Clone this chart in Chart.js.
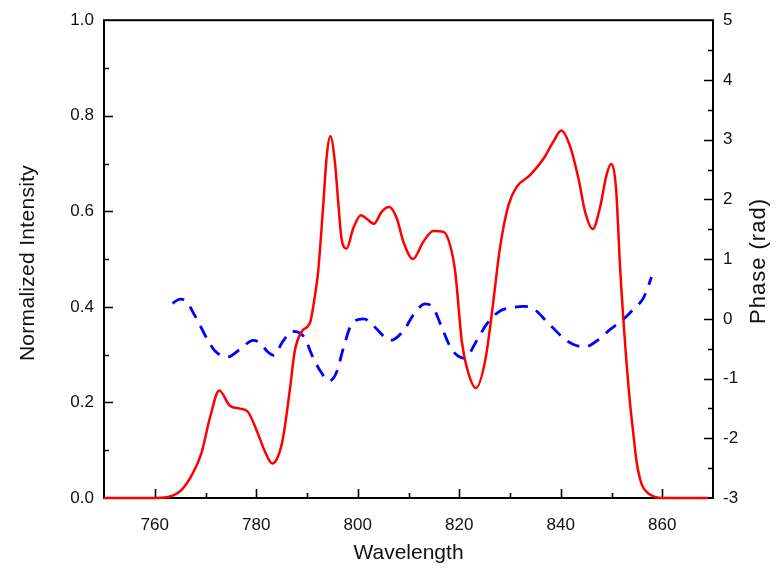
<!DOCTYPE html>
<html>
<head>
<meta charset="utf-8">
<title>Normalized Intensity and Phase</title>
<script src="https://cdn.jsdelivr.net/npm/chart.js@4/dist/chart.umd.min.js"></script>
<style>
  html, body { margin: 0; padding: 0; background: #ffffff; }
  #wrap { width: 782px; height: 569px; }
</style>
</head>
<body>
<div id="wrap"><canvas id="c" width="782" height="569"></canvas></div>
<script>
// Spectral intensity (left axis)
const intensityWavelength = [750, 755, 760, 762, 763.5, 765.3, 767.5, 769.2, 770.9, 772.7, 774.8, 776.8, 778.3, 780.1, 781.8, 783.2, 784.4, 785.3, 786.6, 787.6, 789.0, 790.6, 791.6, 792.2, 793.2, 793.9, 794.6, 795.5, 796.2, 796.8, 797.8, 799.1, 800.6, 801.7, 803.2, 804.7, 806.2, 807.7, 809.0, 810.9, 812.9, 814.9, 816.9, 818.2, 819.2, 820.5, 821.5, 823.3, 825.1, 826.4, 828.0, 829.7, 831.3, 833.9, 836.6, 838.5, 840.1, 841.8, 843.5, 844.8, 846.3, 847.7, 849.0, 849.9, 850.9, 851.7, 852.7, 853.6, 854.3, 854.9, 855.9, 857.2, 858.6, 860, 869];
const intensityValues = [0, 0, 0, 0.001, 0.005, 0.017, 0.052, 0.094, 0.169, 0.225, 0.193, 0.187, 0.181, 0.141, 0.095, 0.072, 0.09, 0.127, 0.225, 0.308, 0.349, 0.367, 0.426, 0.474, 0.613, 0.717, 0.757, 0.703, 0.613, 0.543, 0.522, 0.564, 0.592, 0.585, 0.574, 0.599, 0.609, 0.585, 0.536, 0.5, 0.536, 0.559, 0.557, 0.529, 0.474, 0.328, 0.273, 0.23, 0.287, 0.384, 0.522, 0.613, 0.651, 0.675, 0.71, 0.745, 0.769, 0.737, 0.668, 0.599, 0.563, 0.606, 0.675, 0.699, 0.647, 0.481, 0.32, 0.204, 0.135, 0.079, 0.03, 0.01, 0.002, 0, 0];

// Spectral phase (right axis)
const phaseWavelength = [763.5, 765.0, 766.3, 767.6, 769.0, 770.2, 771.9, 774.3, 776.8, 779.4, 781.0, 782.1, 783.4, 785.3, 787.0, 789.3, 791.2, 792.6, 794.4, 795.8, 797.2, 798.8, 801.2, 803.1, 806.5, 809.0, 811.0, 813.3, 814.9, 816.5, 818.5, 821.1, 823.4, 825.4, 828.0, 830.5, 832.6, 834.6, 837.2, 840.5, 842.5, 844.8, 847.1, 849.7, 852.3, 854.3, 856.3, 857.9];
const phaseValues = [0.26, 0.33, 0.29, 0.10, -0.12, -0.32, -0.54, -0.64, -0.51, -0.36, -0.42, -0.54, -0.61, -0.37, -0.21, -0.29, -0.65, -0.87, -1.04, -0.90, -0.48, -0.09, 0.00, -0.12, -0.36, -0.20, 0.07, 0.25, 0.18, -0.13, -0.51, -0.66, -0.37, -0.09, 0.13, 0.19, 0.21, 0.17, -0.04, -0.32, -0.43, -0.47, -0.37, -0.18, -0.01, 0.16, 0.35, 0.70];

// Axis ticks
const wavelengthTicks = [760, 780, 800, 820, 840, 860];
const intensityTicks = [0, 0.2, 0.4, 0.6, 0.8, 1.0];
const phaseTicks = [-3, -2, -1, 0, 1, 2, 3, 4, 5];

const FONT = 'Arial, "Liberation Sans", Helvetica, sans-serif';

const toPoints = (xs, ys) => xs.map((x, i) => ({ x, y: ys[i] }));

// Closed frame and inward major/minor tick marks, drawn under the curves
const framePlugin = {
  id: 'frameTicks',
  beforeDatasetsDraw(chart) {
    const { ctx, chartArea, scales } = chart;
    const { left, right, top, bottom } = chartArea;
    ctx.save();
    ctx.strokeStyle = '#000';
    ctx.lineCap = 'butt';

    ctx.lineWidth = 1.6;
    ctx.beginPath();
    // bottom axis: majors every 20, minors in between
    for (let v = 760; v <= 860; v += 10) {
      const px = Math.round(scales.x.getPixelForValue(v)) + 0.5;
      const len = (v - 760) % 20 === 0 ? 9 : 5;
      ctx.moveTo(px, bottom); ctx.lineTo(px, bottom - len);
    }
    // left axis
    for (let k = 1; k < 10; k++) {
      const v = k / 10;
      const py = Math.round(scales.y.getPixelForValue(v)) + 0.5;
      const len = k % 2 === 0 ? 9 : 5;
      ctx.moveTo(left, py); ctx.lineTo(left + len, py);
    }
    // right axis
    for (let k = -5; k < 10; k++) {
      const v = k / 2;
      const py = Math.round(scales.y1.getPixelForValue(v)) + 0.5;
      const len = k % 2 === 0 ? 9 : 5;
      ctx.moveTo(right, py); ctx.lineTo(right - len, py);
    }
    ctx.stroke();

    ctx.lineWidth = 2;
    ctx.strokeRect(left, top, right - left, bottom - top);
    ctx.restore();
  },
  // rotated axis titles, both reading bottom to top
  afterDraw(chart) {
    const { ctx } = chart;
    const titles = [
      { x: 28, y: 263, size: 21, spacing: '0.3px', text: 'Normalized Intensity' },
      { x: 759, y: 261, size: 22, spacing: '1px', text: 'Phase (rad)' }
    ];
    ctx.save();
    ctx.fillStyle = '#111';
    ctx.textAlign = 'center';
    ctx.textBaseline = 'middle';
    titles.forEach(t => {
      ctx.save();
      ctx.font = t.size + 'px ' + FONT;
      if ('letterSpacing' in ctx) ctx.letterSpacing = t.spacing;
      ctx.translate(t.x, t.y);
      ctx.rotate(-Math.PI / 2);
      ctx.fillText(t.text, 0, 0);
      ctx.restore();
    });
    ctx.restore();
  }
};

const hiddenGrid = { display: false, drawTicks: false, tickLength: 0 };

new Chart(document.getElementById('c'), {
  type: 'line',
  data: {
    datasets: [
      {
        label: 'Normalized Intensity',
        data: toPoints(intensityWavelength, intensityValues),
        yAxisID: 'y',
        borderColor: '#ff0000',
        borderWidth: 2.5,
        pointRadius: 0,
        cubicInterpolationMode: 'monotone',
        fill: false,
        clip: 6
      },
      {
        label: 'Phase (rad)',
        data: toPoints(phaseWavelength, phaseValues),
        yAxisID: 'y1',
        borderColor: '#0000ff',
        borderWidth: 2.8,
        borderDash: [13, 9],
        borderCapStyle: 'butt',
        pointRadius: 0,
        cubicInterpolationMode: 'monotone',
        fill: false,
        clip: 6
      }
    ]
  },
  options: {
    responsive: false,
    animation: false,
    devicePixelRatio: 1,
    layout: { padding: { top: 17, left: 0, right: 0, bottom: 0 } },
    plugins: { legend: { display: false }, tooltip: { enabled: false } },
    scales: {
      x: {
        type: 'linear',
        position: 'bottom',
        min: 750,
        max: 870,
        afterBuildTicks: s => { s.ticks = wavelengthTicks.map(v => ({ value: v })); },
        afterFit: s => { s.height = 71; },
        grid: hiddenGrid,
        border: { display: false },
        ticks: {
          color: '#111',
          font: { family: FONT, size: 17 },
          padding: 17,
          maxRotation: 0,
          autoSkip: false,
          callback: v => String(v)
        },
        title: {
          display: true,
          text: 'Wavelength',
          color: '#111',
          font: { family: FONT, size: 21 },
          padding: { top: 0, bottom: 3 }
        }
      },
      y: {
        type: 'linear',
        position: 'left',
        min: 0,
        max: 1,
        afterBuildTicks: s => { s.ticks = intensityTicks.map(v => ({ value: v })); },
        afterFit: s => { s.width = 104; },
        grid: hiddenGrid,
        border: { display: false },
        ticks: {
          color: '#111',
          font: { family: FONT, size: 17 },
          padding: 10,
          autoSkip: false,
          callback: v => Number(v).toFixed(1)
        }
      },
      y1: {
        type: 'linear',
        position: 'right',
        min: -3,
        max: 5,
        afterBuildTicks: s => { s.ticks = phaseTicks.map(v => ({ value: v })); },
        afterFit: s => { s.width = 69; },
        grid: hiddenGrid,
        border: { display: false },
        ticks: {
          color: '#111',
          font: { family: FONT, size: 17 },
          padding: 10,
          autoSkip: false,
          callback: v => String(v)
        }
      }
    }
  },
  plugins: [framePlugin]
});
</script>
</body>
</html>
